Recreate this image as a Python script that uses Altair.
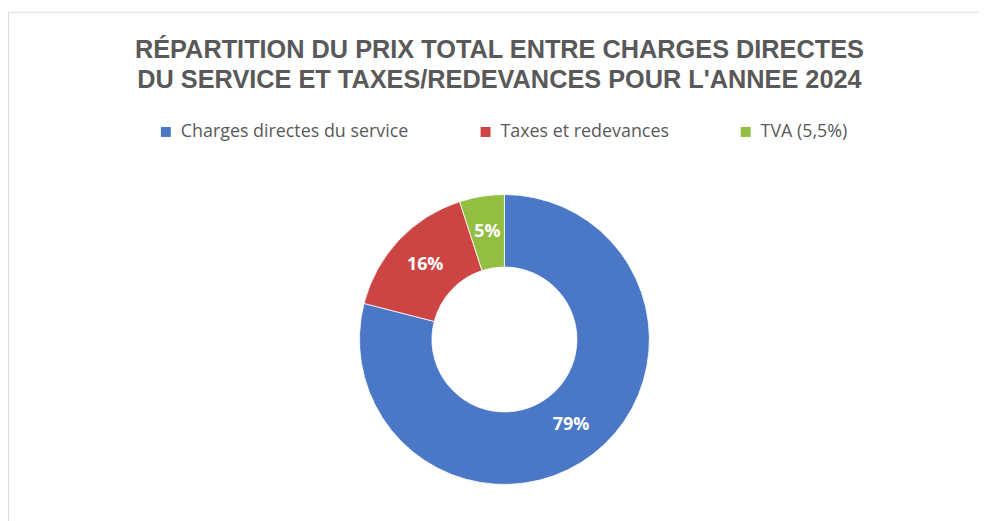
import altair as alt
import pandas as pd

categories = ["Charges directes du service", "Taxes et redevances", "TVA (5,5%)"]
values = [79, 16, 5]
labels = ["79%", "16%", "5%"]
order = [0, 1, 2]
colors = ["#4A78C6", "#CD4543", "#92BE42"]
title_lines = [
    "RÉPARTITION DU PRIX TOTAL ENTRE CHARGES DIRECTES",
    "DU SERVICE ET TAXES/REDEVANCES POUR L'ANNEE 2024",
]

df = pd.DataFrame({"cat": categories, "val": values, "label": labels, "ord": order})

CX, CY = 500, 330
R_OUT, R_IN = 146, 73

base = alt.Chart(df).encode(
    theta=alt.Theta("val:Q", stack=True),
    order=alt.Order("ord:Q"),
    x=alt.value(CX),
    y=alt.value(CY),
)

arcs = base.mark_arc(outerRadius=R_OUT, innerRadius=R_IN, stroke="white", strokeWidth=0.8).encode(
    color=alt.Color(
        "cat:N",
        scale=alt.Scale(domain=categories, range=colors),
        sort=categories,
        legend=alt.Legend(
            title=None,
            orient="none",
            direction="horizontal",
            legendX=150,
            legendY=112,
            symbolType="square",
            symbolSize=100,
            symbolStrokeWidth=0,
            labelFont="Open Sans",
            labelFontSize=18,
            labelColor="#595959",
            labelOffset=6,
            labelLimit=0,
            columnPadding=68,
        ),
    )
)

text = base.mark_text(
    radius=(R_OUT + R_IN) / 2,
    font="Open Sans",
    fontWeight="bold",
    fontSize=18,
    color="white",
).encode(text="label:N")

chart = (
    alt.layer(arcs, text)
    .properties(
        width=978,
        height=520,
        padding={"left": 0, "top": 2, "right": 0, "bottom": 0},
        autosize=alt.AutoSizeParams(type="none"),
        title=alt.TitleParams(
            text=title_lines,
            font="Liberation Sans",
            fontWeight="bold",
            fontSize=25.5,
            color="#595959",
            anchor="middle",
            lineHeight=30,
            offset=-82,
            dx=6,
        ),
    )
    .configure_view(stroke="#D9D9D9", strokeWidth=1)
    .configure(background="white")
)

chart.save("out.html", embed_options={"renderer": "svg", "actions": False})
